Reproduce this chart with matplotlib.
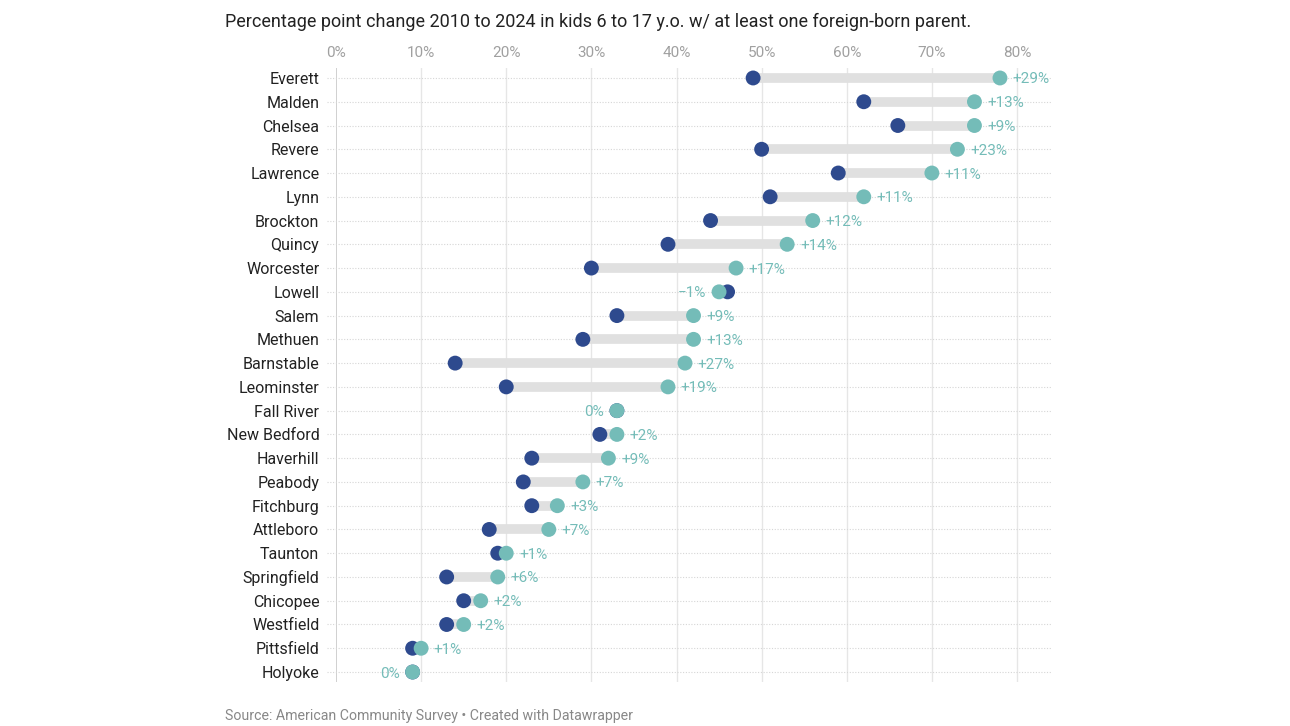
import numpy as np
import matplotlib.pyplot as plt

plt.rcParams['font.family'] = ['Roboto', 'DejaVu Sans']

cities = ['Everett', 'Malden', 'Chelsea', 'Revere', 'Lawrence', 'Lynn', 'Brockton',
          'Quincy', 'Worcester', 'Lowell', 'Salem', 'Methuen', 'Barnstable',
          'Leominster', 'Fall River', 'New Bedford', 'Haverhill', 'Peabody',
          'Fitchburg', 'Attleboro', 'Taunton', 'Springfield', 'Chicopee',
          'Westfield', 'Pittsfield', 'Holyoke']
y2010 = [49, 62, 66, 50, 59, 51, 44, 39, 30, 46, 33, 29, 14, 20, 33, 31, 23, 22,
         23, 18, 19, 13, 15, 13, 9, 9]
y2024 = [78, 75, 75, 73, 70, 62, 56, 53, 47, 45, 42, 42, 41, 39, 33, 33, 32, 29,
         26, 25, 20, 19, 17, 15, 10, 9]
xticks = [0, 10, 20, 30, 40, 50, 60, 70, 80]

dark = '#2e4a8e'
teal = '#74bcb8'

fig = plt.figure(figsize=(12.9, 7.26), dpi=100)
ax = fig.add_axes([336/1290, 1-682/726, (1050-336)/1290, (682-68)/726])

n = len(cities)
ypos = np.arange(n)

for x in xticks:
    ax.axvline(x, color='#c8c8c8' if x == 0 else '#e6e6e6', lw=1.2 if x == 0 else 1, zorder=0)

for i in range(n):
    ax.plot([-1, 84], [i, i], color='#d6d6d6', lw=0.8, ls=(0, (1, 1.5)), zorder=0.5, clip_on=False)
    ax.plot([y2010[i], y2024[i]], [i, i], color='#e0e0e0', lw=7, solid_capstyle='butt', zorder=1)

ax.scatter(y2010, ypos, s=115, color=dark, zorder=3, edgecolors='none')
ax.scatter(y2024, ypos, s=115, color=teal, zorder=4, edgecolors='none')

for i in range(n):
    d = y2024[i] - y2010[i]
    if d > 0:
        ax.text(y2024[i] + 1.5, i, '+%d%%' % d, color=teal, va='center_baseline', ha='left', fontsize=11)
    elif d < 0:
        ax.text(y2024[i] - 1.5, i, '\u2212%d%%' % abs(d), color=teal, va='center_baseline', ha='right', fontsize=11)
    else:
        ax.text(y2024[i] - 1.5, i, '0%', color=teal, va='center_baseline', ha='right', fontsize=11)

ax.set_xlim(0, (1050-336)/8.5125)
ax.set_ylim(n - 1 + 0.42, -0.42)
ax.set_xticks(xticks)
ax.set_xticklabels(['%d%%' % x for x in xticks], color='#a0a0a0', fontsize=11)
ax.xaxis.tick_top()
ax.tick_params(axis='x', length=0, pad=6)
ax.set_yticks(ypos)
ax.set_yticklabels(cities, fontsize=11.5, color='#222222')
for t in ax.get_yticklabels():
    t.set_verticalalignment('center_baseline')
ax.tick_params(axis='y', length=0, pad=12)
for s in ax.spines.values():
    s.set_visible(False)

fig.text(225/1290, 1-22/726, 'Percentage point change 2010 to 2024 in kids 6 to 17 y.o. w/ at least one foreign-born parent.',
         fontsize=13, color='#222222', va='center', ha='left')
fig.text(225/1290, 1-716/726, 'Source: American Community Survey \u2022 Created with Datawrapper',
         fontsize=10.2, color='#888888', va='center', ha='left')

fig.savefig('out.png', dpi=100)
